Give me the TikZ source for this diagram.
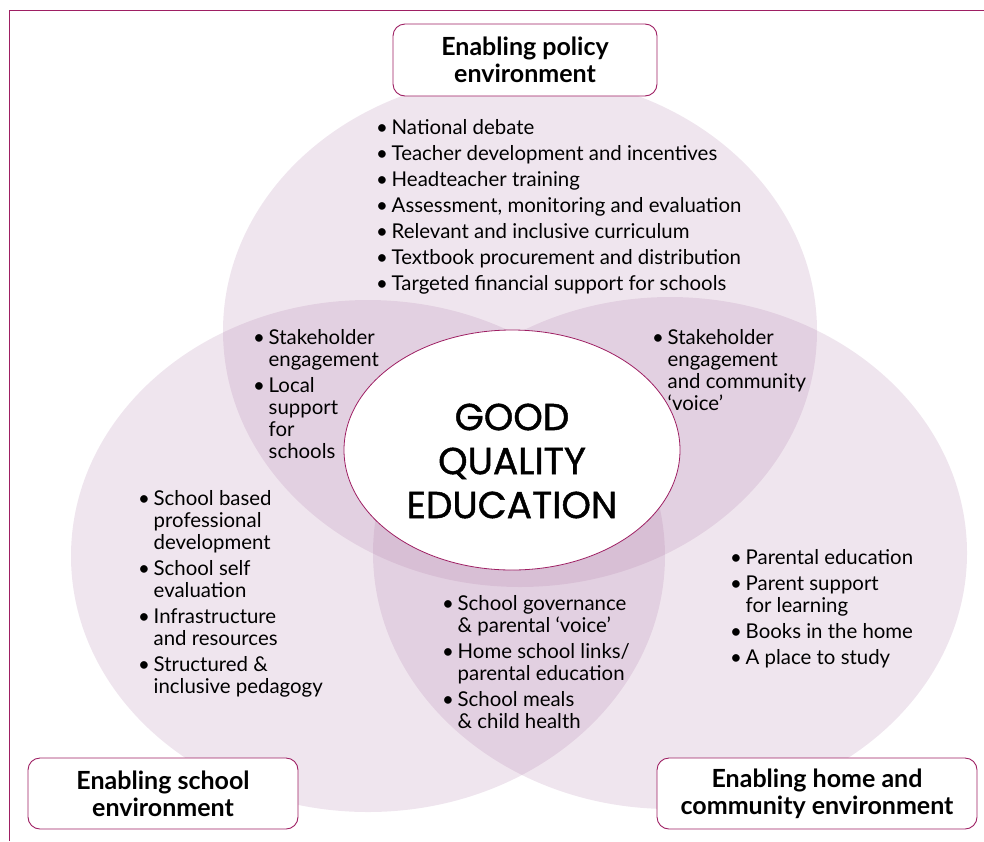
\documentclass[tikz,border=0pt]{standalone}
\usepackage{fontspec}
\setmainfont{Lato}
\newfontfamily\cfont{Poppins}[FakeBold=1.2]
\usetikzlibrary{shapes.geometric}
\definecolor{framec}{RGB}{158,31,99}
\definecolor{venn}{RGB}{171,118,166}
\newcommand{\bul}{\makebox[15.5pt][l]{\textbullet}}
\newcommand{\ind}{\hspace*{15.5pt}}
\begin{document}
\begin{tikzpicture}[x=1pt,y=-1pt,
  venncirc/.style={ellipse, fill=venn, fill opacity=0.19, draw=none, minimum width=594pt, minimum height=512pt, inner sep=0pt},
  lab/.style={draw=framec, line width=0.9pt, fill=white, rounded corners=12pt, align=center, inner sep=0pt, font=\fontsize{25}{27}\selectfont\bfseries},
  blist/.style={align=left, inner sep=0pt, anchor=north west, font=\fontsize{20.4}{22}\selectfont},
  tlist/.style={align=left, inner sep=0pt, anchor=north west, font=\fontsize{20.4}{26}\selectfont}
]
\useasboundingbox (0,0) rectangle (984,841);
\draw[framec, line width=1pt] (9,841) -- (9,10) -- (984,10);

\node (policy) [venncirc] at (520,331) {};
\node (school) [venncirc] at (368,556) {};
\node (home)   [venncirc] at (670,553) {};

\node (gqe) [ellipse, draw=framec, line width=0.8pt, fill=white, minimum width=336pt, minimum height=240pt, inner sep=0pt] at (512,450) {};
\node (gqetext) [align=center, inner sep=0pt, font=\cfont\fontsize{37.5}{44}\selectfont] at (512,461) {GOOD\\QUALITY\\EDUCATION};

\node (tl) [tlist] at (376,119) {\bul National debate\\
\bul Teacher development and incentives\\
\bul Headteacher training\\
\bul Assessment, monitoring and evaluation\\
\bul Relevant and inclusive curriculum\\
\bul Textbook procurement and distribution\\
\bul Targeted financial support for schools};

\node (tsl) [blist] at (253,329) {\bul Stakeholder\\
\ind engagement\\[4pt]
\bul Local\\
\ind support\\
\ind for\\
\ind schools};

\node (thl) [blist] at (652,329) {\bul Stakeholder\\
\ind engagement\\
\ind and community\\
\ind ‘voice’};

\node (sl) [blist] at (138,490) {\bul School based\\
\ind professional\\
\ind development\\[4pt]
\bul School self\\
\ind evaluation\\[4pt]
\bul Infrastructure\\
\ind and resources\\[4pt]
\bul Structured \&\\
\ind inclusive pedagogy};

\node (shl) [blist] at (442,595) {\bul School governance\\
\ind \& parental ‘voice’\\[4pt]
\bul Home school links/\\
\ind parental education\\[4pt]
\bul School meals\\
\ind \& child health};

\node (hl) [blist] at (730,549) {\bul Parental education\\[4pt]
\bul Parent support\\
\ind for learning\\[4pt]
\bul Books in the home\\[4pt]
\bul A place to study};

\node (lpolicy) [lab, minimum width=264pt, minimum height=72pt] at (525,60) {Enabling policy\\environment};
\node (lschool) [lab, minimum width=270pt, minimum height=71pt] at (163,793.5) {Enabling school\\environment};
\node (lhome) [lab, minimum width=320pt, minimum height=71pt] at (817,793.5) {Enabling home and\\community environment};
\end{tikzpicture}
\end{document}
